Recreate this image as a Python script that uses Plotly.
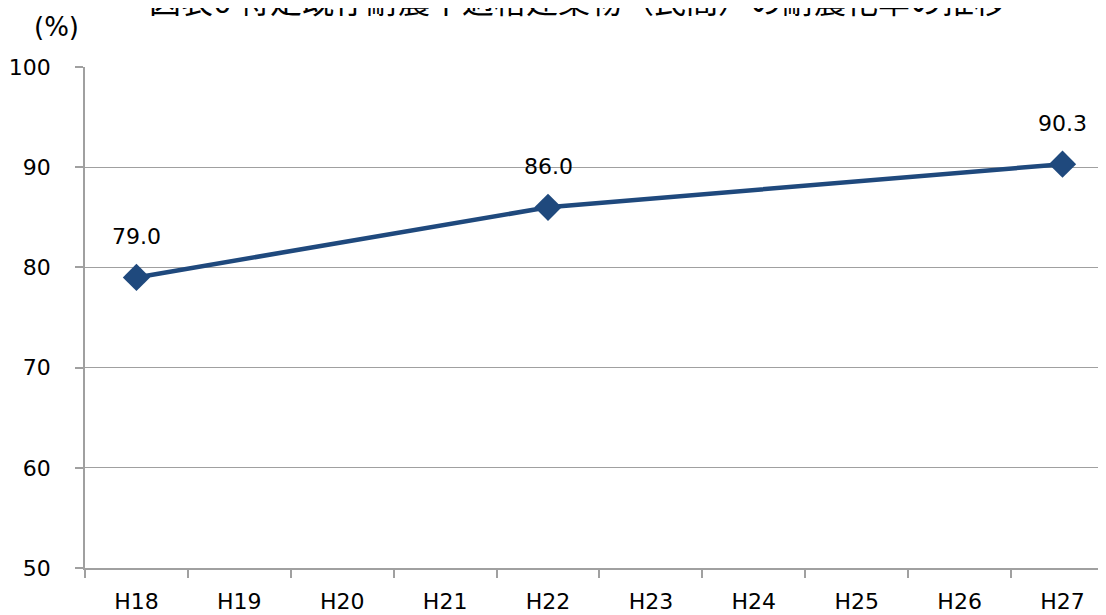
import plotly.graph_objects as go

categories = ["H18", "H19", "H20", "H21", "H22", "H23", "H24", "H25", "H26", "H27"]
point_cats = ["H18", "H22", "H27"]
values = [79.0, 86.0, 90.3]
labels = ["79.0", "86.0", "90.3"]
title = "図表6 特定既存耐震不適格建築物（民間）の耐震化率の推移"
y_ticks = [50, 60, 70, 80, 90, 100]

idx = [categories.index(c) for c in point_cats]

fig = go.Figure()
fig.add_trace(go.Scatter(
    x=idx, y=values, mode="lines+markers",
    line=dict(color="#1F497D", width=4.5),
    marker=dict(symbol="diamond", size=21, color="#1F497D"),
    cliponaxis=False, showlegend=False,
))

annotations = [
    dict(x=xi, y=v, text=t, xref="x", yref="y", showarrow=False, yshift=41,
         xanchor="center", yanchor="middle",
         font=dict(family="DejaVu Sans", size=22, color="#000000"))
    for xi, v, t in zip(idx, values, labels)
]
annotations += [
    dict(text="(%)", xref="paper", yref="paper", x=(56 - 85) / 1013, y=1 + 40 / 501,
         xanchor="center", yanchor="middle", showarrow=False,
         font=dict(family="DejaVu Sans", size=26)),
    dict(text=title, xref="paper", yref="paper", x=(577.5 - 85) / 1013, y=1 + 68 / 501,
         xanchor="center", yanchor="middle", showarrow=False,
         font=dict(family="Noto Sans CJK JP", size=32)),
]

fig.update_layout(
    width=1098, height=607,
    margin=dict(l=77, r=8, t=59, b=47, autoexpand=False),
    paper_bgcolor="white", plot_bgcolor="white",
    font=dict(family="DejaVu Sans", size=22, color="#000000"),
    xaxis=dict(
        range=[-0.5, 9.345], automargin=False,
        tickmode="array", tickvals=list(range(len(categories))), ticktext=categories,
        showgrid=False, showline=True, linecolor="#A0A0A0", linewidth=1.5,
        ticks="", ticklabelstandoff=13,
        minor=dict(tickmode="array", tickvals=[i - 0.5 for i in range(len(categories) + 1)],
                   ticks="outside", ticklen=8, tickcolor="#A0A0A0", tickwidth=1.5),
        tickfont=dict(size=22),
        zeroline=False,
    ),
    yaxis=dict(
        range=[50, 100], tickvals=y_ticks, automargin=False,
        showgrid=True, gridcolor="#A0A0A0", gridwidth=1.2,
        showline=True, linecolor="#A0A0A0", linewidth=1.5,
        ticks="outside", ticklen=8, tickcolor="#A0A0A0", tickwidth=1.5,
        ticklabelstandoff=20,
        tickfont=dict(size=22), zeroline=False,
    ),
    annotations=annotations,
)

fig.write_html("out.html")
